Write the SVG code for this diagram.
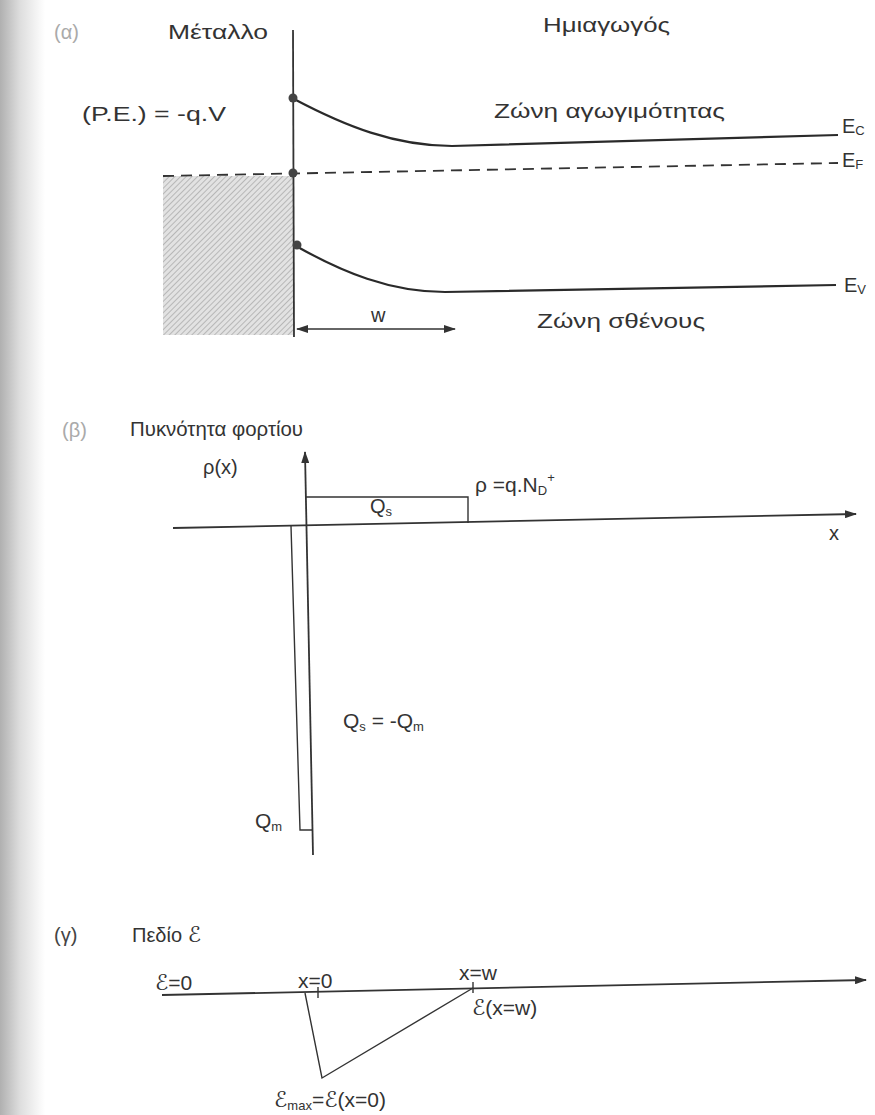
<svg xmlns="http://www.w3.org/2000/svg" width="875" height="1115" viewBox="0 0 875 1115">
<defs>
<linearGradient id="shade" x1="0" y1="0" x2="1" y2="0">
<stop offset="0" stop-color="#b0b0b0"/>
<stop offset="0.45" stop-color="#dedede"/>
<stop offset="1" stop-color="#ffffff"/>
</linearGradient>
<pattern id="hatch" width="4" height="4" patternUnits="userSpaceOnUse" patternTransform="rotate(45)">
<rect width="4" height="4" fill="#e2e2e2"/>
<line x1="0" y1="0" x2="0" y2="4" stroke="#9a9a9a" stroke-width="1.2"/>
</pattern>
<marker id="arr" markerWidth="12" markerHeight="8" refX="11" refY="4" orient="auto" markerUnits="userSpaceOnUse">
<path d="M0,0 L12,4 L0,8 Z" fill="#333"/>
</marker>
<marker id="arrS" markerWidth="12" markerHeight="8" refX="1" refY="4" orient="auto" markerUnits="userSpaceOnUse">
<path d="M12,0 L0,4 L12,8 Z" fill="#333"/>
</marker>
<style>
text{font-family:"Liberation Sans","DejaVu Sans",sans-serif;fill:#333;font-size:20px}
.lab{fill:#aaa}
.sm{font-size:21px}
.sub{font-size:13px}
.scr{font-family:"DejaVu Sans","DejaVu Serif",serif;font-style:italic}
.band{fill:none;stroke:#2a2a2a;stroke-width:2.2}
.ax{fill:none;stroke:#333;stroke-width:1.8}
.thin{fill:none;stroke:#333;stroke-width:1.4}
.dot{fill:#444}
</style>
</defs>
<rect width="875" height="1115" fill="#fff"/>
<rect width="45" height="1115" fill="url(#shade)"/>

<!-- (a) band diagram -->
<g id="panel-a">
<text class="lab" x="54" y="39">(α)</text>
<text id="metal-label" x="168" y="39" textLength="100" lengthAdjust="spacingAndGlyphs">Μέταλλο</text>
<text id="semi-label" x="543" y="32" textLength="127" lengthAdjust="spacingAndGlyphs">Ημιαγωγός</text>
<text id="pe-label" x="82" y="121" textLength="144" lengthAdjust="spacingAndGlyphs">(P.E.) = -q.V</text>
<rect id="metal-fill" x="163" y="176" width="130" height="159" fill="url(#hatch)"/>
<line id="interface" class="ax" x1="293" y1="30" x2="294" y2="337" stroke-width="2.2"/>
<path id="ec-band" class="band" d="M294,99 C345,126 395,146 452,146 L838,135"/>
<text id="cond-label" x="494" y="118" textLength="231" lengthAdjust="spacingAndGlyphs">Ζώνη αγωγιμότητας</text>
<text id="ec-label" x="842" y="133" font-size="21">E<tspan class="sub" dy="2">C</tspan></text>
<path id="ef-level" fill="none" stroke="#333" stroke-width="1.8" stroke-dasharray="11,7" d="M163,176 L838,163"/>
<text id="ef-label" x="842" y="167" font-size="21">E<tspan class="sub" dy="2">F</tspan></text>
<path id="ev-band" class="band" d="M296,246 C342,272 390,292 445,292 L836,285"/>
<text id="ev-label" x="844" y="292" font-size="21">E<tspan class="sub" dy="2">V</tspan></text>
<text id="val-label" x="537" y="328" textLength="168" lengthAdjust="spacingAndGlyphs">Ζώνη σθένους</text>
<circle class="dot" cx="293" cy="98" r="4.5"/>
<circle class="dot" cx="293" cy="173" r="4.5"/>
<circle class="dot" cx="297" cy="245" r="4.5"/>
<text id="w-label" x="371" y="322">w</text>
</g>

<!-- (b) charge density -->
<g id="panel-b">
<text class="lab" x="62" y="437">(β)</text>
<text id="rho-title" x="130" y="436" textLength="173" lengthAdjust="spacingAndGlyphs">Πυκνότητα φορτίου</text>
<text id="rho-axis-label" x="203" y="474">ρ(x)</text>
<path id="qs-rect" class="thin" d="M305,497 L468,497 L468,523"/>
<text id="qs-label" x="370" y="513">Q<tspan class="sub" dy="3">s</tspan></text>
<text id="rho-eq" x="475" y="492" class="sm">ρ =q.N<tspan class="sub" dy="3">D</tspan><tspan class="sub" dy="-13">+</tspan></text>
<text id="x-label" x="829" y="540">x</text>
<path id="qm-rect" class="thin" d="M291,526 L300,830 L313,830"/>
<text id="qm-label" x="255" y="828" class="sm">Q<tspan class="sub" dy="3">m</tspan></text>
<text id="qsqm-label" x="343" y="728" class="sm">Q<tspan class="sub" dy="3">s</tspan><tspan dy="-3"> = -Q</tspan><tspan class="sub" dy="3">m</tspan></text>
</g>

<!-- (c) field -->
<g id="panel-c">
<text x="54" y="942" style="fill:#444">(γ)</text>
<text id="field-title" x="132" y="942">Πεδίο <tspan class="scr" font-size="22">ℰ</tspan></text>
<text id="e0-label" x="155" y="990" class="sm"><tspan class="scr" font-size="22">ℰ</tspan>=0</text>
<text id="x0-label" x="298" y="988" class="sm">x=0</text>
<text id="xw-label" x="459" y="980" class="sm">x=w</text>
<line class="thin" x1="318" y1="987" x2="318" y2="998"/>
<line class="thin" x1="473" y1="982" x2="473" y2="993"/>
<path id="field-tri" class="thin" d="M305,993 L322,1078 L473,988"/>
<text id="ew-label" x="472" y="1015" class="sm"><tspan class="scr" font-size="22">ℰ</tspan>(x=w)</text>
<text id="emax-label" x="274" y="1107" class="sm"><tspan class="scr" font-size="22">ℰ</tspan><tspan class="sub" dy="3">max</tspan><tspan dy="-3">=</tspan><tspan class="scr" font-size="22">ℰ</tspan>(x=0)</text>
</g>

<!-- connectors / axes -->
<g id="connectors">
<line id="w-arrow" class="thin" x1="297" y1="329" x2="455" y2="329" marker-start="url(#arrS)" marker-end="url(#arr)" stroke-width="1.6"/>
<line id="rho-axis" class="ax" x1="313" y1="855" x2="305" y2="452" marker-end="url(#arr)" stroke-width="1.6"/>
<line id="x-axis" class="ax" x1="173" y1="528" x2="856" y2="514" marker-end="url(#arr)" stroke-width="1.6"/>
<line id="e-axis" class="ax" x1="162" y1="995" x2="866" y2="980" marker-end="url(#arr)" stroke-width="1.6"/>
</g>
</svg>
